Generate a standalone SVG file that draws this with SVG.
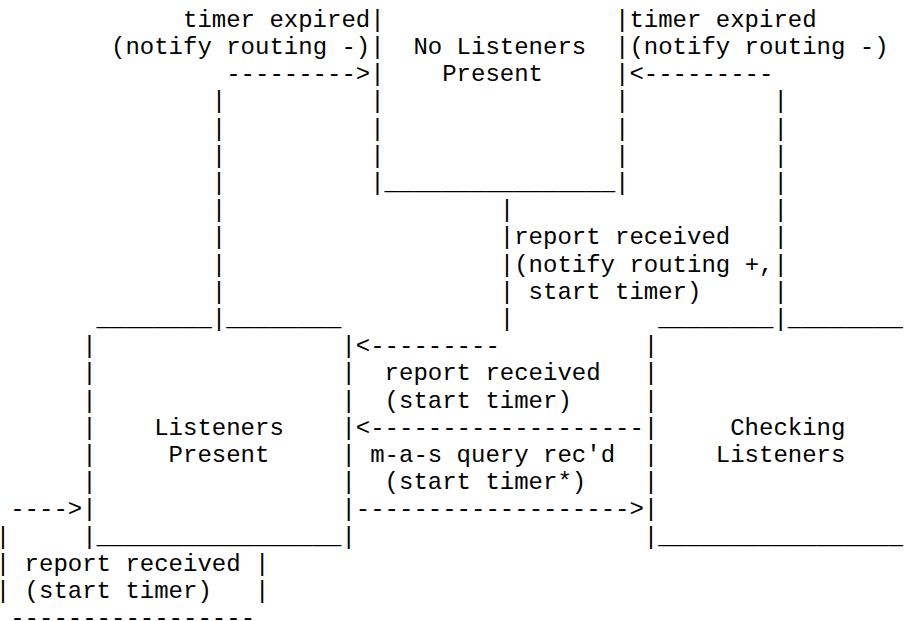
<svg xmlns="http://www.w3.org/2000/svg" width="906" height="621" viewBox="0 0 906 621">
<style>
text { font-family: "Liberation Mono", "Courier New", monospace; font-size: 24px; fill: #000; white-space: pre; }
</style>
<rect x="0" y="0" width="906" height="621" fill="#fff"/>
<g id="node-no-listeners">
  <text x="370.2" y="26.7">|<tspan x="370.2" dy="27.2">|</tspan><tspan x="370.2" dy="27.2">|</tspan><tspan x="370.2" dy="27.2">|</tspan><tspan x="370.2" dy="27.2">|</tspan><tspan x="370.2" dy="27.2">|</tspan><tspan x="370.2" dy="27.2">|________________|</tspan></text>
  <text x="615" y="26.7">|<tspan x="615" dy="27.2">|</tspan><tspan x="615" dy="27.2">|</tspan><tspan x="615" dy="27.2">|</tspan><tspan x="615" dy="27.2">|</tspan><tspan x="615" dy="27.2">|</tspan></text>
  <text x="413.4" y="53.9">No Listeners</text>
  <text x="442.2" y="81.1">Present</text>
</g>
<g id="node-listeners-present">
  <text x="96.6" y="325.9">________</text>
  <text x="226.2" y="325.9">________</text>
  <text x="82.2" y="353.1">|<tspan x="82.2" dy="27.2">|</tspan><tspan x="82.2" dy="27.2">|</tspan><tspan x="82.2" dy="27.2">|</tspan><tspan x="82.2" dy="27.2">|</tspan><tspan x="82.2" dy="27.2">|</tspan><tspan x="82.2" dy="27.2">|</tspan><tspan x="82.2" dy="27.2">|_________________|</tspan></text>
  <text x="341.4" y="353.1">|<tspan x="341.4" dy="27.2">|</tspan><tspan x="341.4" dy="27.2">|</tspan><tspan x="341.4" dy="27.2">|</tspan><tspan x="341.4" dy="27.2">|</tspan><tspan x="341.4" dy="27.2">|</tspan><tspan x="341.4" dy="27.2">|</tspan></text>
  <text x="154.2" y="434.7">Listeners</text>
  <text x="168.6" y="461.9">Present</text>
</g>
<g id="node-checking-listeners">
  <text x="658.2" y="325.9">________</text>
  <text x="787.8" y="325.9">________</text>
  <text x="643.8" y="353.1">|<tspan x="643.8" dy="27.2">|</tspan><tspan x="643.8" dy="27.2">|</tspan><tspan x="643.8" dy="27.2">|</tspan><tspan x="643.8" dy="27.2">|</tspan><tspan x="643.8" dy="27.2">|</tspan><tspan x="643.8" dy="27.2">|</tspan><tspan x="643.8" dy="27.2">|_________________</tspan></text>
  <text x="730.2" y="434.7">Checking</text>
  <text x="715.8" y="461.9">Listeners</text>
</g>
<g id="connectors">
  <!-- Listeners Present -> No Listeners Present -->
  <text x="211.8" y="108.3">|<tspan x="211.8" dy="27.2">|</tspan><tspan x="211.8" dy="27.2">|</tspan><tspan x="211.8" dy="27.2">|</tspan><tspan x="211.8" dy="27.2">|</tspan><tspan x="211.8" dy="27.2">|</tspan><tspan x="211.8" dy="27.2">|</tspan><tspan x="211.8" dy="27.2">|</tspan><tspan x="211.8" dy="27.2">|</tspan></text>
  <text x="226.2" y="81.1">---------&gt;</text>
  <text x="183" y="26.7">timer expired</text>
  <text x="111" y="53.9">(notify routing -)</text>
  <!-- Checking Listeners -> No Listeners Present -->
  <text x="773.4" y="108.3">|<tspan x="773.4" dy="27.2">|</tspan><tspan x="773.4" dy="27.2">|</tspan><tspan x="773.4" dy="27.2">|</tspan><tspan x="773.4" dy="27.2">|</tspan><tspan x="773.4" dy="27.2">|</tspan><tspan x="773.4" dy="27.2">|</tspan><tspan x="773.4" dy="27.2">|</tspan><tspan x="773.4" dy="27.2">|</tspan></text>
  <text x="629.4" y="81.1">&lt;---------</text>
  <text x="629.4" y="26.7">timer expired</text>
  <text x="629.4" y="53.9">(notify routing -)</text>
  <!-- No Listeners Present -> Listeners Present -->
  <text x="499.8" y="217.1">|<tspan x="499.8" dy="27.2">|</tspan><tspan x="499.8" dy="27.2">|</tspan><tspan x="499.8" dy="27.2">|</tspan><tspan x="499.8" dy="27.2">|</tspan></text>
  <text x="514.2" y="244.3">report received</text>
  <text x="514.2" y="271.5">(notify routing +,</text>
  <text x="528.6" y="298.7">start timer)</text>
  <text x="355.8" y="353.1">&lt;---------</text>
  <!-- Checking Listeners -> Listeners Present -->
  <text x="384.6" y="380.3">report received</text>
  <text x="384.6" y="407.5">(start timer)</text>
  <text x="355.8" y="434.7">&lt;-------------------</text>
  <!-- Listeners Present -> Checking Listeners -->
  <text x="370.2" y="461.9">m-a-s query rec'd</text>
  <text x="384.6" y="489.1">(start timer*)</text>
  <text x="355.8" y="516.3">-------------------&gt;</text>
  <!-- Listeners Present self loop -->
  <text x="10.2" y="516.3">----&gt;</text>
  <text x="-4.2" y="543.5">|<tspan x="-4.2" dy="27.2">|</tspan><tspan x="-4.2" dy="27.2">|</tspan></text>
  <text x="255" y="570.7">|<tspan x="255" dy="27.2">|</tspan></text>
  <text x="24.6" y="570.7">report received</text>
  <text x="24.6" y="597.9">(start timer)</text>
  <text x="10.2" y="625.1">-----------------</text>
</g>
</svg>
